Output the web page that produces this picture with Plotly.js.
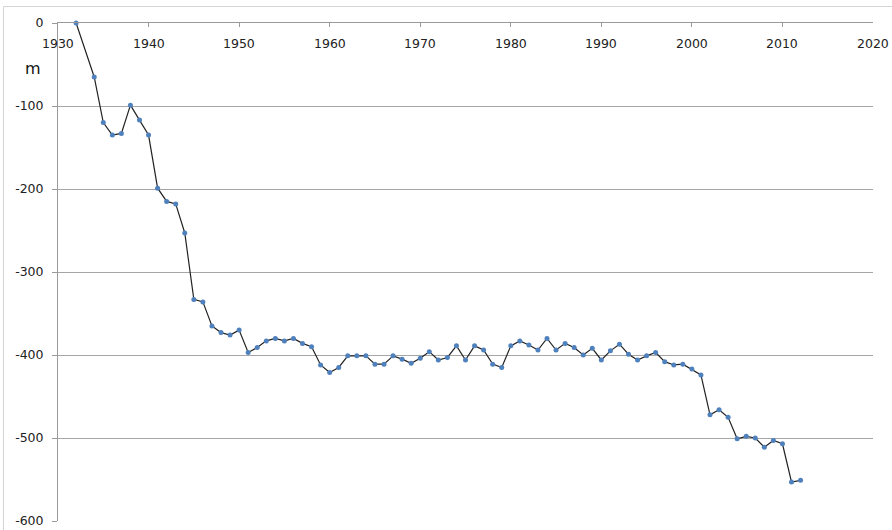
<!DOCTYPE html>
<html>
<head>
<meta charset="utf-8">
<script src="https://cdn.plot.ly/plotly-3.0.1.min.js"></script>
<style>
html,body{margin:0;padding:0;background:#fff;}
#chart{width:892px;height:530px;}
</style>
</head>
<body>
<div id="chart"></div>
<script>
var years = [1932,1934,1935,1936,1937,1938,1939,1940,1941,1942,1943,1944,1945,1946,1947,1948,1949,
  1950,1951,1952,1953,1954,1955,1956,1957,1958,1959,1960,1961,1962,1963,1964,1965,1966,1967,1968,1969,
  1970,1971,1972,1973,1974,1975,1976,1977,1978,1979,1980,1981,1982,1983,1984,1985,1986,1987,1988,1989,
  1990,1991,1992,1993,1994,1995,1996,1997,1998,1999,2000,2001,2002,2003,2004,2005,2006,2007,2008,2009,
  2010,2011,2012];
var depth = [0,-65,-120,-135,-133,-99,-117,-135,-199,-215,-218,-253,-333,-336,-365,-373,-376,
  -370,-397,-391,-383,-380,-383,-380,-386,-390,-412,-421,-415,-401,-401,-401,-411,-411,-401,-405,-410,
  -404,-396,-406,-403,-389,-406,-389,-394,-411,-415,-389,-383,-388,-394,-380,-394,-386,-391,-400,-392,
  -406,-395,-387,-399,-406,-401,-397,-408,-412,-411,-417,-424,-472,-466,-475,-501,-498,-500,-511,-503,
  -507,-553,-551];
var xTicks = [1930,1940,1950,1960,1970,1980,1990,2000,2010,2020];
var yTicks = [0,-100,-200,-300,-400,-500,-600];
var unitLabel = "m";

var trace = {
  x: years, y: depth, type: 'scatter', mode: 'lines+markers',
  line: {color: '#222222', width: 1.2},
  marker: {color: '#4f81bd', size: 5},
  cliponaxis: false,
  hoverinfo: 'x+y'
};

var W = 892, H = 530, L = 58, R = 19, T = 23, B = 9;
var pw = W - L - R, ph = H - T - B;
function px(x){ return (x - L) / pw; }
function py(y){ return (H - B - y) / ph; }

var tickFont = {family: 'DejaVu Sans, sans-serif', size: 12.5, color: '#222'};

var annotations = xTicks.map(function(v){
  return {text: String(v), xref: 'x', yref: 'paper', x: v, y: py(44),
    xanchor: 'center', yanchor: 'middle', showarrow: false, font: tickFont};
});
annotations.push({text: unitLabel, xref: 'paper', yref: 'paper', x: px(33), y: py(68),
  xanchor: 'center', yanchor: 'middle', showarrow: false,
  font: {family: 'DejaVu Sans, sans-serif', size: 16, color: '#111'}});

var layout = {
  width: W, height: H,
  margin: {l: L, r: R, t: T, b: B, pad: 0},
  paper_bgcolor: '#fff', plot_bgcolor: '#fff',
  showlegend: false,
  font: {family: 'DejaVu Sans, sans-serif', size: 12, color: '#222'},
  xaxis: {
    range: [1930, 2020], side: 'top', tickvals: xTicks,
    ticks: 'inside', ticklen: 4, tickcolor: '#9a9a9a', tickwidth: 1,
    showticklabels: false,
    showline: true, linecolor: '#9a9a9a', linewidth: 1,
    showgrid: false, zeroline: false, automargin: false
  },
  yaxis: {
    range: [-600, 0], tickvals: yTicks, ticktext: yTicks.map(String),
    ticks: 'outside', ticklen: 5, tickcolor: '#9a9a9a', tickwidth: 1,
    ticklabelstandoff: 6,
    showline: true, linecolor: '#9a9a9a', linewidth: 1,
    showgrid: true, gridcolor: '#a6a6a6', gridwidth: 1,
    zeroline: false, automargin: false,
    tickfont: tickFont
  },
  shapes: [
    {type: 'rect', xref: 'paper', yref: 'paper', x0: px(3.5), x1: px(1000), y0: py(6.5), y1: py(700),
     line: {color: '#d4d4d4', width: 1}, fillcolor: 'rgba(0,0,0,0)', layer: 'below'}
  ],
  annotations: annotations
};

Plotly.newPlot('chart', [trace], layout, {displayModeBar: false, staticPlot: true});
</script>
</body>
</html>
